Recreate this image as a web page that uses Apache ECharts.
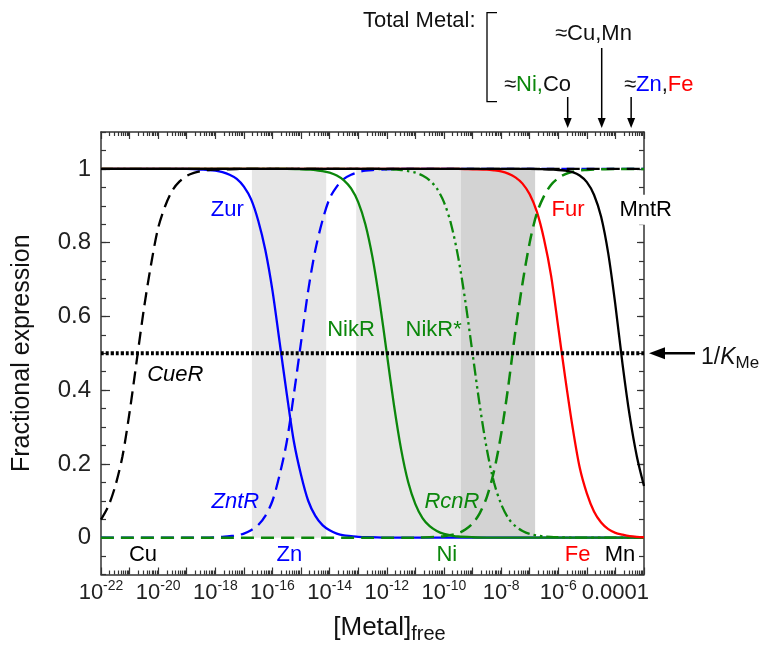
<!DOCTYPE html>
<html>
<head>
<meta charset="utf-8">
<script src="https://cdn.jsdelivr.net/npm/echarts@6/dist/echarts.min.js"></script>
<style>
    html, body { margin: 0; padding: 0; background: #fff; }
    #chart { width: 771px; height: 648px; }
</style>
</head>
<body>
<div id="chart"></div>
<script>
    // x values are log10 of the free metal concentration (M)
    var xMin = -22, xMax = -3;
    var decadeLabels = [-22, -20, -18, -16, -14, -12, -10, -8, -6, -4];
    var yLabels = [0, 0.2, 0.4, 0.6, 0.8, 1];

    var cueR = [[-22, 0.049], [-21.75, 0.084], [-21.5, 0.14], [-21.25, 0.22], [-21, 0.34], [-20.75, 0.48], [-20.5, 0.62],
        [-20.25, 0.74], [-20, 0.84], [-19.75, 0.90], [-19.5, 0.942], [-19.25, 0.966], [-19, 0.981], [-18.75, 0.989],
        [-18.5, 0.994], [-18.25, 0.997], [-18, 0.998], [-17.5, 0.999], [-17, 1], [-3, 1]];
    var zur = [[-22, 1], [-19, 1], [-18.5, 0.998], [-18.25, 0.997], [-18, 0.995], [-17.75, 0.991], [-17.5, 0.984],
        [-17.25, 0.973], [-17, 0.952], [-16.75, 0.918], [-16.5, 0.86], [-16.25, 0.78], [-16, 0.67], [-15.75, 0.53],
        [-15.5, 0.39], [-15.25, 0.26], [-15, 0.17], [-14.75, 0.10], [-14.5, 0.059], [-14.25, 0.034], [-14, 0.020],
        [-13.75, 0.011], [-13.5, 0.006], [-13.25, 0.004], [-13, 0.002], [-12.5, 0.001], [-12, 0], [-3, 0]];
    var zntR = [[-22, 0], [-18.5, 0], [-18, 0.001], [-17.75, 0.002], [-17.5, 0.004], [-17.25, 0.006], [-17, 0.011],
        [-16.75, 0.020], [-16.5, 0.034], [-16.25, 0.059], [-16, 0.10], [-15.75, 0.17], [-15.5, 0.26], [-15.25, 0.39],
        [-15, 0.53], [-14.75, 0.67], [-14.5, 0.78], [-14.25, 0.86], [-14, 0.92], [-13.75, 0.952], [-13.5, 0.973],
        [-13.25, 0.984], [-13, 0.991], [-12.75, 0.995], [-12.5, 0.997], [-12, 0.999], [-11.5, 1], [-3, 1]];
    var nikR = [[-22, 1], [-15.5, 1], [-15, 0.999], [-14.75, 0.998], [-14.5, 0.997], [-14.25, 0.994], [-14, 0.990],
        [-13.75, 0.982], [-13.5, 0.969], [-13.25, 0.947], [-13, 0.91], [-12.75, 0.85], [-12.5, 0.76], [-12.25, 0.64],
        [-12, 0.50], [-11.75, 0.36], [-11.5, 0.24], [-11.25, 0.15], [-11, 0.091], [-10.75, 0.053], [-10.5, 0.031],
        [-10.25, 0.018], [-10, 0.010], [-9.75, 0.006], [-9.5, 0.003], [-9, 0.001], [-8.5, 0], [-3, 0]];
    var nikRStar = [[-22, 1], [-12.5, 1], [-12, 0.999], [-11.75, 0.998], [-11.5, 0.997], [-11.25, 0.994], [-11, 0.990],
        [-10.75, 0.982], [-10.5, 0.969], [-10.25, 0.947], [-10, 0.91], [-9.75, 0.85], [-9.5, 0.76], [-9.25, 0.64],
        [-9, 0.50], [-8.75, 0.36], [-8.5, 0.24], [-8.25, 0.15], [-8, 0.091], [-7.75, 0.053], [-7.5, 0.031],
        [-7.25, 0.018], [-7, 0.010], [-6.75, 0.006], [-6.5, 0.003], [-6, 0.001], [-5.5, 0], [-3, 0]];
    var rcnR = [[-22, 0], [-11, 0], [-10.5, 0.001], [-10.25, 0.002], [-10, 0.004], [-9.75, 0.007], [-9.5, 0.012],
        [-9.25, 0.022], [-9, 0.038], [-8.75, 0.066], [-8.5, 0.11], [-8.25, 0.18], [-8, 0.28], [-7.75, 0.41],
        [-7.5, 0.56], [-7.25, 0.69], [-7, 0.80], [-6.75, 0.88], [-6.5, 0.926], [-6.25, 0.957], [-6, 0.975],
        [-5.75, 0.986], [-5.5, 0.992], [-5.25, 0.996], [-5, 0.997], [-4.5, 0.999], [-4, 1], [-3, 1]];
    var fur = [[-22, 1], [-9.5, 1], [-9, 0.999], [-8.5, 0.998], [-8.25, 0.996], [-8, 0.993], [-7.75, 0.987],
        [-7.5, 0.977], [-7.25, 0.960], [-7, 0.931], [-6.75, 0.884], [-6.5, 0.81], [-6.25, 0.71], [-6, 0.57],
        [-5.75, 0.43], [-5.5, 0.30], [-5.25, 0.19], [-5, 0.12], [-4.75, 0.071], [-4.5, 0.041], [-4.25, 0.023],
        [-4, 0.013], [-3.75, 0.008], [-3.5, 0.004], [-3.25, 0.002], [-3, 0.001]];
    var mntR = [[-22, 1], [-7, 1], [-6.5, 0.999], [-6.25, 0.998], [-6, 0.997], [-5.75, 0.995], [-5.5, 0.991],
        [-5.25, 0.982], [-5, 0.964], [-4.75, 0.93], [-4.5, 0.87], [-4.25, 0.77], [-4, 0.63], [-3.75, 0.47],
        [-3.5, 0.33], [-3.25, 0.22], [-3, 0.14]];
    var kMe = [[-22, 0.5], [-3, 0.5]];

    // shaded [Metal] ranges
    var lightBands = [[-16.72, -14.12], [-13.07, -9.41]];
    var darkBands = [[-9.41, -6.81]];

    // total metal arrows (log10 M) and where each arrow starts (px)
    var totalMetal = [-5.67, -4.48, -3.45];
    var arrowTops = [97, 48, 97];

    var blue = '#0000ff', green = '#0b870b', red = '#ff0000', black = '#000000';
    var font = 'Liberation Sans, Arial, Helvetica, sans-serif';

    var curveLabels = [
        ['Zur', -17.58, 0.889, blue, 'normal'],
        ['NikR', -13.25, 0.563, green, 'normal'],
        ['NikR*', -10.36, 0.563, green, 'normal'],
        ['Fur', -5.66, 0.889, red, 'normal'],
        ['MntR', -2.94, 0.889, black, 'normal'],
        ['CueR', -19.4, 0.441, black, 'italic'],
        ['ZntR', -17.3, 0.097, blue, 'italic'],
        ['RcnR', -9.72, 0.097, green, 'italic'],
        ['Cu', -20.53, -0.047, black, 'normal'],
        ['Zn', -15.41, -0.047, blue, 'normal'],
        ['Ni', -9.9, -0.047, green, 'normal'],
        ['Fe', -5.32, -0.047, red, 'normal'],
        ['Mn', -3.84, -0.047, black, 'normal']
    ];

    var majorX = [], minorX = [];
    for (var d = xMin; d <= xMax; d++) {
        majorX.push(d);
        if (d < xMax) {
            [2, 3, 4, 5, 6, 7, 8, 9].forEach(function (k) {
                minorX.push(d + Math.log10(k));
            });
        }
    }
    var minorY = [];
    for (var i = -2; i <= 22; i++) {
        minorY.push(Math.round(i * 5) / 100);
    }

    var axisColor = '#333';

    function xAxisDef(pos, ticks, len, withLine, withLabel) {
        return {
            type: 'value', position: pos, min: xMin, max: xMax,
            axisLine: {show: withLine, onZero: false, lineStyle: {color: axisColor, width: 1.5}},
            axisTick: {show: true, inside: true, length: len, customValues: ticks,
                lineStyle: {color: axisColor, width: 1.2}},
            axisLabel: withLabel ? {
                show: true, margin: 5, customValues: decadeLabels,
                formatter: function (v) {
                    if (v === -4) return '{n|0.0001}';
                    return '{n|10}{s|' + v + '}';
                },
                rich: {
                    n: {fontSize: 22, lineHeight: 26, color: '#222', fontFamily: font},
                    s: {fontSize: 14, lineHeight: 14, verticalAlign: 'top', color: '#222', fontFamily: font}
                }
            } : {show: false},
            splitLine: {show: false}
        };
    }

    function yAxisDef(pos, ticks, len, withLine, withLabel) {
        return {
            type: 'value', position: pos, min: -0.1, max: 1.1,
            axisLine: {show: withLine, onZero: false, lineStyle: {color: axisColor, width: 1.5}},
            axisTick: {show: true, inside: true, length: len, customValues: ticks,
                lineStyle: {color: axisColor, width: 1.2}},
            axisLabel: withLabel ? {
                show: true, margin: 10, customValues: yLabels,
                fontSize: 24, color: '#222', fontFamily: font,
                formatter: function (v) {
                    return String(Math.round(v * 10) / 10);
                }
            } : {show: false},
            splitLine: {show: false}
        };
    }

    var xAxes = [
        xAxisDef('bottom', majorX, 7, true, true),
        xAxisDef('bottom', minorX, 4, false, false),
        xAxisDef('top', majorX, 7, true, false),
        xAxisDef('top', minorX, 4, false, false)
    ];
    xAxes[0].name = '{m|[Metal]}{f|free}';
    xAxes[0].nameLocation = 'middle';
    xAxes[0].nameGap = 36;
    xAxes[0].nameTextStyle = {
        padding: [0, 0, 0, 34],
        rich: {
            m: {fontSize: 26, lineHeight: 34, color: '#111', fontFamily: font},
            f: {fontSize: 20, lineHeight: 20, verticalAlign: 'bottom', color: '#111', fontFamily: font}
        }
    };

    var yAxes = [
        yAxisDef('left', yLabels, 9, true, true),
        yAxisDef('left', minorY, 5, false, false),
        yAxisDef('right', yLabels, 7, true, false),
        yAxisDef('right', minorY, 5, false, false)
    ];
    yAxes[0].name = 'Fractional expression';
    yAxes[0].nameLocation = 'middle';
    yAxes[0].nameGap = 66;
    yAxes[0].nameTextStyle = {fontSize: 25, color: '#111', fontFamily: font};

    function curve(name, data, color, type, width) {
        return {
            name: name, type: 'line', data: data, showSymbol: false,
            smooth: 0.3, animation: false, silent: true,
            lineStyle: {color: color, type: type, width: width || 2.3}
        };
    }

    function bandItems(list, color) {
        return list.map(function (b) {
            return [{xAxis: b[0], yAxis: 0, itemStyle: {color: color}}, {xAxis: b[1], yAxis: 1}];
        });
    }

    var bandSeries = {
        name: 'bands', type: 'line', data: [], silent: true, animation: false,
        markArea: {
            silent: true,
            data: bandItems(lightBands, '#e6e6e6').concat(bandItems(darkBands, '#d3d3d3'))
        }
    };

    var dashed = [13, 7];

    var chart = echarts.init(document.getElementById('chart'));
    chart.setOption({
        backgroundColor: '#fff',
        animation: false,
        grid: {left: 101, right: 127, top: 132, bottom: 73.5, outerBoundsMode: 'none'},
        xAxis: xAxes,
        yAxis: yAxes,
        series: [
            bandSeries,
            curve('Zur', zur, blue, 'solid'),
            curve('ZntR', zntR, blue, dashed),
            curve('NikR', nikR, green, 'solid'),
            curve('NikR*', nikRStar, green, [12, 4, 2.5, 4, 2.5, 4]),
            curve('Fur', fur, red, 'solid'),
            curve('RcnR', rcnR, green, dashed, 2.5),
            curve('CueR', cueR, black, dashed),
            curve('MntR', mntR, black, 'solid'),
            curve('1/KMe', kMe, black, [3, 2], 4)
        ]
    });

    function px(x, y) {
        return chart.convertToPixel({gridIndex: 0}, [x, y]);
    }

    var graphics = [];
    curveLabels.forEach(function (l) {
        var p = px(l[1], l[2]);
        var st = {text: l[0], fill: l[3], fontSize: 22, fontFamily: font, fontStyle: l[4],
            align: 'center', verticalAlign: 'middle'};
        if (l[0] === 'MntR') {
            st.backgroundColor = '#fff';
            st.padding = [4, 0];
        }
        graphics.push({type: 'text', x: p[0], y: p[1], z: 50, style: st});
    });

    var topY = px(xMin, 1.1)[1];
    totalMetal.forEach(function (v, idx) {
        var x = px(v, 1.1)[0];
        graphics.push({type: 'line', shape: {x1: x, y1: arrowTops[idx], x2: x, y2: topY - 12},
            style: {stroke: '#000', lineWidth: 1.5}});
        graphics.push({type: 'polygon', shape: {points: [[x - 4, topY - 14], [x + 4, topY - 14], [x, topY - 4]]},
            style: {fill: '#000'}});
    });

    graphics.push({type: 'polyline', shape: {points: [[497, 12.7], [487, 12.7], [487, 101.7], [497, 101.7]]},
        style: {stroke: '#000', lineWidth: 1.3, fill: null}});
    graphics.push({type: 'text', x: 363, y: 21,
        style: {text: 'Total Metal:', fill: '#111', fontSize: 22, fontFamily: font, align: 'left', verticalAlign: 'middle'}});
    graphics.push({type: 'text', x: 555, y: 34,
        style: {text: '≈Cu,Mn', fill: '#111', fontSize: 22, fontFamily: font, align: 'left', verticalAlign: 'middle'}});
    graphics.push({type: 'text', x: 504, y: 85,
        style: {text: '{a|≈}{g|Ni,}{a|Co}', fontSize: 22, fontFamily: font, align: 'left', verticalAlign: 'middle',
            rich: {a: {fill: '#111', fontSize: 22, fontFamily: font}, g: {fill: green, fontSize: 22, fontFamily: font}}}});
    graphics.push({type: 'text', x: 624, y: 85,
        style: {text: '{a|≈}{b|Zn}{a|,}{r|Fe}', fontSize: 22, fontFamily: font, align: 'left', verticalAlign: 'middle',
            rich: {a: {fill: '#111', fontSize: 22, fontFamily: font}, b: {fill: blue, fontSize: 22, fontFamily: font},
                r: {fill: red, fontSize: 22, fontFamily: font}}}});

    var kp = px(xMax, kMe[0][1]);
    var tipX = kp[0] + 5;
    graphics.push({type: 'line', shape: {x1: tipX + 12, y1: kp[1], x2: tipX + 46, y2: kp[1]},
        style: {stroke: '#000', lineWidth: 2.4}});
    graphics.push({type: 'polygon', shape: {points: [[tipX, kp[1]], [tipX + 16, kp[1] - 6], [tipX + 16, kp[1] + 6]]},
        style: {fill: '#000'}});
    graphics.push({type: 'text', x: tipX + 52, y: kp[1] + 4,
        style: {text: '{a|1/}{k|K}{s|Me}', align: 'left', verticalAlign: 'middle',
            rich: {
                a: {fill: '#111', fontSize: 23, lineHeight: 30, fontFamily: font},
                k: {fill: '#111', fontSize: 23, lineHeight: 30, fontStyle: 'italic', fontFamily: font},
                s: {fill: '#111', fontSize: 17, lineHeight: 17, verticalAlign: 'bottom', fontFamily: font}
            }}});

    chart.setOption({graphic: graphics});
</script>
</body>
</html>
